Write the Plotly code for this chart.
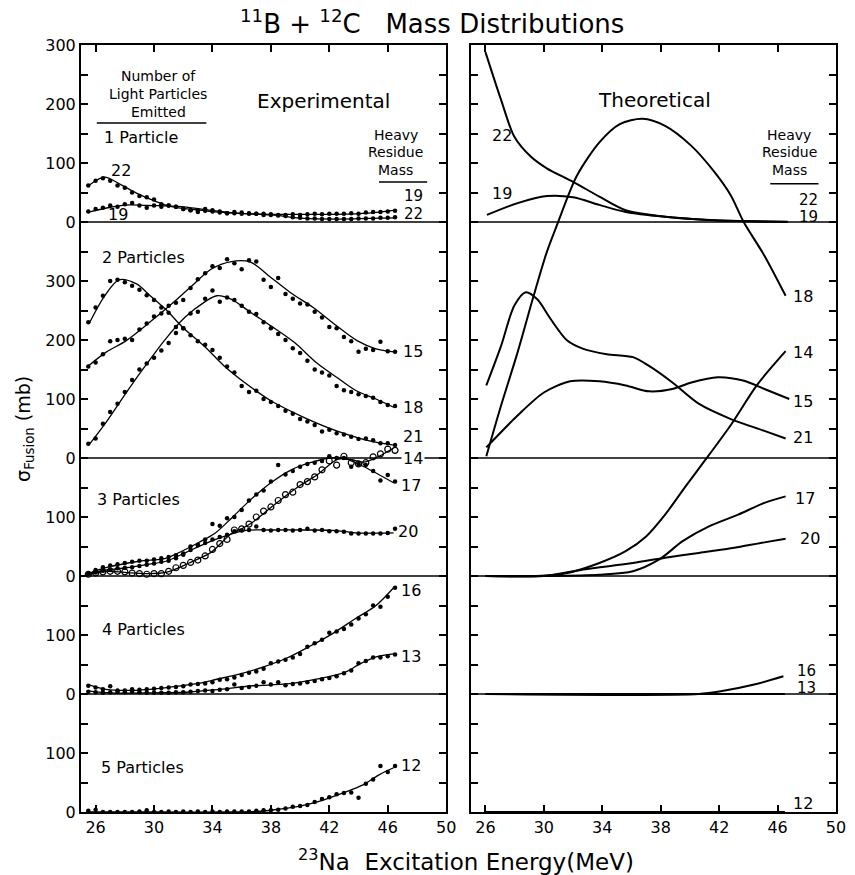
import plotly.graph_objects as go

FONT = "DejaVu Sans"

# stacked panels: offset (mb) of each row's zero line on one shared y scale
ROW_BASE = {1: 1000, 2: 600, 3: 400, 4: 200, 5: 0}
Y_TOP = 1300
X_RANGE = [25, 50]
X_TICKS = [26, 30, 34, 38, 42, 46, 50]

# ---------------- experimental data (dots) ----------------
E_DOTS = [25.5, 26.0, 26.5, 27.0, 27.5, 28.0, 28.5, 29.0, 29.5, 30.0,
          30.5, 31.0, 31.5, 32.0, 32.5, 33.0, 33.5, 34.0, 34.5, 35.0,
          35.5, 36.0, 36.5, 37.0, 37.5, 38.0, 38.5, 39.0, 39.5, 40.0,
          40.5, 41.0, 41.5, 42.0, 42.5, 43.0, 43.5, 44.0, 44.5, 45.0,
          45.5, 46.0, 46.5]

exp22_dots = [62, 70, 74, 70, 62, 58, 50, 44, 42, 38,
              30, 28, 26, 22, 20, 20, 19, 18, 16, 15,
              15, 14, 14, 14, 12, 12, 11, 10, 8, 7,
              6, 6, 5, 5, 5, 5, 5, 6, 6, 6,
              7, 7, 8]
exp19_dots = [18, 22, 24, 28, 26, 30, 32, 28, 24, 28,
              26, 28, 26, 22, 20, 17, 22, 20, 18, 15,
              17, 16, 15, 14, 14, 13, 12, 12, 13, 12,
              13, 14, 13, 14, 14, 14, 15, 14, 16, 17,
              17, 18, 19]
exp21_dots = [230, 255, 275, 300, 302, 298, 292, 285, 276, 268,
              255, 246, 222, 220, 208, 198, 192, 183, 170, 155,
              145, 122, 112, 114, 100, 95, 88, 80, 75, 66,
              62, 56, 45, 48, 42, 40, 36, 32, 33, 30,
              25, 25, 22]
exp15_dots = [155, 162, 176, 198, 200, 202, 200, 218, 228, 240,
              245, 258, 263, 268, 288, 303, 313, 325, 322, 337,
              330, 320, 335, 333, 302, 290, 305, 278, 270, 262,
              260, 248, 238, 222, 220, 205, 198, 180, 185, 183,
              197, 181, 180]
exp18_dots = [24, 33, 58, 78, 92, 112, 132, 150, 160, 170,
              182, 195, 212, 220, 245, 248, 270, 284, 265, 272,
              268, 258, 248, 244, 230, 220, 210, 200, 186, 178,
              165, 150, 145, 140, 122, 115, 112, 108, 105, 102,
              95, 90, 88]
exp17_dots = [4, 10, 15, 18, 20, 22, 24, 26, 26, 28,
              30, 32, 35, 38, 50, 53, 62, 88, 85, 98,
              100, 112, 128, 138, 145, 160, 188, 172, 178, 185,
              190, 192, 195, 203, 200, 200, 185, 190, 188, 178,
              162, 171, 160]
exp14_dots = [3, 5, 7, 8, 8, 7, 5, 4, 3, 4,
              4, 8, 14, 18, 23, 27, 34, 45, 55, 62,
              78, 80, 88, 100, 110, 117, 128, 138, 142, 155,
              160, 168, 180, 195, 188, 203, 192, 190, 192, 202,
              207, 215, 213]
exp20_dots = [4, 6, 9, 11, 13, 14, 15, 17, 19, 21,
              24, 26, 30, 36, 44, 52, 56, 62, 66, 70,
              76, 77, 78, 84, 78, 77, 78, 78, 77, 78,
              80, 77, 78, 76, 76, 75, 72, 72, 72, 72,
              72, 73, 80]
exp16_dots = [14, 11, 8, 13, 6, 6, 8, 7, 8, 9,
              10, 11, 12, 13, 16, 17, 18, 20, 24, 25,
              28, 32, 36, 38, 43, 52, 55, 58, 62, 68,
              80, 86, 92, 104, 106, 110, 118, 128, 135, 150,
              148, 165, 180]
exp13_dots = [4, 3, 2, 3, 4, 3, 4, 3, 2, 2,
              2, 2, 3, 3, 4, 5, 6, 5, 7, 8,
              16, 10, 12, 14, 20, 16, 20, 15, 17, 18,
              20, 22, 25, 27, 30, 35, 40, 52, 56, 62,
              62, 64, 67]
exp12_dots = [2, 4, 0, 0, 0, 0, 0, 1, 3, 0,
              0, 1, 0, 1, 0, 1, 0, 1, 0, 1,
              1, 1, 1, 2, 3, 3, 4, 6, 9, 10,
              12, 17, 22, 25, 30, 32, 33, 24, 48, 55,
              78, 68, 78]

# ---------------- experimental smooth curves ----------------
exp22_E = [25.6, 26.6, 27.75, 28.8, 29.9, 31.2, 33.5, 35.5, 38.0, 40.25, 42.5, 44.7, 46.55]
exp22_L = [63, 76, 63, 49, 37, 26, 19, 15, 12, 6, 5, 6, 7]
exp19_E = [25.6, 27.0, 28.3, 29.5, 31.9, 33.5, 35.7, 38.0, 40.25, 42.5, 44.7, 46.55]
exp19_L = [17, 25, 29, 28, 26, 21, 15, 13, 13, 13, 15, 20]
exp21_E = [25.6, 26.6, 27.6, 28.8, 29.7, 30.8, 31.9, 33.5, 34.8, 36.2, 38.0, 40.25, 42.5, 44.75, 46.4]
exp21_L = [230, 274, 302, 295, 276, 252, 223, 188, 156, 128, 97, 69, 46, 29, 22]
exp15_E = [25.5, 26.7, 28.1, 29.7, 31.2, 32.6, 33.9, 35.3, 36.6, 38.0, 39.3, 40.9, 42.5, 43.9, 45.2, 46.4]
exp15_L = [156, 179, 199, 230, 261, 292, 320, 333, 332, 306, 281, 255, 224, 199, 185, 180]
exp18_E = [25.6, 26.7, 28.1, 29.4, 30.8, 32.1, 33.5, 34.3, 35.3, 36.6, 38.0, 39.6, 41.1, 42.5, 43.85, 45.2, 46.4]
exp18_L = [24, 60, 111, 156, 202, 238, 265, 275, 269, 247, 224, 196, 162, 137, 114, 100, 86]
exp17_E = [25.6, 26.7, 29.0, 30.8, 31.9, 33.0, 34.2, 35.3, 36.6, 38.0, 39.4, 40.7, 42.05, 42.95, 44.3, 46.4]
exp17_L = [5, 14, 25, 30, 42, 56, 73, 98, 129, 158, 180, 192, 200, 200, 186, 158]
exp14_E = [25.6, 26.8, 28.0, 29.5, 30.8, 32.4, 33.9, 34.6, 35.3, 36.0, 36.8, 38.3, 39.8, 41.2, 42.6, 43.5, 44.4, 45.4, 46.4]
exp14_L = [3, 8, 6, 4, 6, 22, 40, 56, 72, 80, 92, 122, 150, 172, 198, 197, 193, 203, 217]
exp20_E = [25.6, 26.7, 28.1, 29.4, 30.8, 32.1, 33.5, 34.9, 36.2, 38.0, 40.3, 42.5, 43.8, 46.4]
exp20_L = [4, 10, 14, 19, 25, 39, 55, 68, 77, 78, 78, 77, 73, 73]
exp16_E = [25.6, 26.7, 28.1, 29.7, 31.2, 32.8, 34.3, 35.9, 37.5, 39.1, 40.6, 42.2, 43.8, 45.2, 46.4]
exp16_L = [15, 8, 6, 8, 12, 17, 25, 34, 46, 61, 80, 102, 128, 150, 180]
exp13_E = [25.6, 27.0, 30.0, 32.2, 34.5, 36.8, 39.1, 41.3, 43.1, 44.1, 45.2, 46.4]
exp13_L = [5, 2, 2, 3, 8, 14, 17, 26, 37, 51, 63, 68]
exp12_E = [25.6, 30.0, 35.7, 37.0, 38.0, 39.8, 41.3, 42.9, 44.3, 45.4, 46.4]
exp12_L = [0, 0, 0, 1, 3, 9, 18, 32, 46, 63, 75]

# ---------------- theoretical curves ----------------
th22_E = [26.0, 27.07, 27.97, 29.1, 30.2, 32.0, 33.8, 35.6, 38.3, 41.7, 45.1, 46.7]
th22_L = [288, 207, 145, 111, 91, 68, 43, 20, 9, 3, 1, 0.5]
th19_E = [26.1, 28.2, 30.2, 32.0, 33.8, 35.6, 38.3, 41.7, 45.1, 46.7]
th19_L = [12, 32, 44, 42, 29, 17, 9, 3, 1, 0]
th18_E = [26.06, 27.07, 28.2, 29.3, 30.2, 30.9, 32.25, 33.8, 35.2, 36.75, 38.3, 40.1, 41.7, 42.8, 43.7, 45.1, 46.55]
th18_L = [3, 89, 179, 275, 349, 395, 478, 535, 566, 575, 563, 529, 484, 445, 399, 343, 275]
th21_E = [26.06, 27.07, 27.97, 28.76, 29.55, 30.45, 31.6, 32.7, 34.3, 36.1, 37.2, 38.8, 40.6, 42.8, 45.1, 46.55]
th21_L = [123, 190, 258, 281, 269, 236, 199, 185, 176, 171, 156, 128, 92, 66, 46, 33]
th15_E = [26.06, 28.2, 30.0, 31.8, 33.8, 35.6, 37.2, 38.8, 40.1, 41.9, 43.7, 45.1, 46.8]
th15_L = [18, 72, 111, 130, 130, 123, 113, 117, 128, 137, 131, 117, 100]
th14_E = [26.0, 29.5, 31.6, 33.8, 35.6, 37.0, 38.3, 39.7, 41.0, 42.8, 44.6, 46.55]
th14_L = [0, 0, 5, 22, 42, 67, 104, 152, 195, 256, 324, 381]
th17_E = [26.0, 30.0, 33.8, 36.1, 37.9, 39.5, 41.3, 43.3, 45.1, 46.55]
th17_L = [0, 0, 2, 8, 28, 59, 84, 104, 124, 135]
th20_E = [26.0, 30.0, 32.7, 36.1, 38.3, 40.6, 42.8, 45.1, 46.55]
th20_L = [0, 0, 11, 22, 31, 39, 47, 57, 63]
th16_E = [26.0, 40.6, 42.2, 44.4, 46.4]
th16_L = [0, 0, 5, 16, 30]
th13_E = [26.0, 46.5]
th13_L = [0, 0]
th12_E = [26.0, 46.5]
th12_L = [0, 0]

EXP = [  # (row, curve E, curve values, dot values, marker symbol)
    (1, exp22_E, exp22_L, exp22_dots, "circle"),
    (1, exp19_E, exp19_L, exp19_dots, "circle"),
    (2, exp21_E, exp21_L, exp21_dots, "circle"),
    (2, exp15_E, exp15_L, exp15_dots, "circle"),
    (2, exp18_E, exp18_L, exp18_dots, "circle"),
    (3, exp17_E, exp17_L, exp17_dots, "circle"),
    (3, exp14_E, exp14_L, exp14_dots, "circle-open"),
    (3, exp20_E, exp20_L, exp20_dots, "circle"),
    (4, exp16_E, exp16_L, exp16_dots, "circle"),
    (4, exp13_E, exp13_L, exp13_dots, "circle"),
    (5, exp12_E, exp12_L, exp12_dots, "circle"),
]
THEO = [
    (1, th22_E, th22_L), (1, th19_E, th19_L),
    (2, th18_E, th18_L), (2, th21_E, th21_L), (2, th15_E, th15_L),
    (3, th14_E, th14_L), (3, th17_E, th17_L), (3, th20_E, th20_L),
    (4, th16_E, th16_L), (4, th13_E, th13_L),
    (5, th12_E, th12_L),
]

# mass labels: (panel, text, E, row, mb, font size)
MASS_LABELS = [
    ("L", "22", 27.77, 1, 88, 16), ("L", "19", 27.5, 1, 12, 16),
    ("L", "19", 47.77, 1, 44, 15), ("L", "22", 47.77, 1, 14, 15),
    ("L", "15", 47.7, 2, 181, 16), ("L", "18", 47.7, 2, 86, 16), ("L", "21", 47.7, 2, 36, 16),
    ("L", "14", 47.7, 3, 200, 16), ("L", "17", 47.57, 3, 154, 16), ("L", "20", 47.4, 3, 75, 16),
    ("L", "16", 47.57, 4, 176, 16), ("L", "13", 47.57, 4, 63, 16),
    ("L", "12", 47.57, 5, 78, 16),
    ("R", "22", 27.16, 1, 147, 16), ("R", "19", 27.16, 1, 49, 16),
    ("R", "22", 48.1, 1, 38, 15), ("R", "19", 48.1, 1, 9, 15),
    ("R", "18", 47.77, 2, 273, 16), ("R", "14", 47.77, 2, 178, 16),
    ("R", "15", 47.77, 2, 95, 16), ("R", "21", 47.77, 2, 34, 16),
    ("R", "17", 47.9, 3, 132, 16), ("R", "20", 48.2, 3, 64, 16),
    ("R", "16", 48.0, 4, 39, 15), ("R", "13", 48.0, 4, 10, 15),
    ("R", "12", 47.77, 5, 15, 16),
]
ROW_TITLES = [("1 Particle", 26.42, 1, 144), ("2 Particles", 26.28, 2, 339),
              ("3 Particles", 25.95, 3, 130), ("4 Particles", 26.28, 4, 110),
              ("5 Particles", 26.2, 5, 76)]


def G(row, v):
    return ROW_BASE[row] + v


fig = go.Figure()
for row, ce, cv, dv, sym in EXP:
    fig.add_trace(go.Scatter(x=ce, y=[G(row, v) for v in cv], mode="lines",
                             line=dict(color="black", width=1.3, shape="spline", smoothing=0.9),
                             xaxis="x", yaxis="y", showlegend=False, hoverinfo="skip"))
    if sym == "circle-open":
        mk = dict(symbol="circle-open", size=6, color="black", line=dict(width=1.2, color="black"))
    else:
        mk = dict(symbol="circle", size=4.5, color="black")
    fig.add_trace(go.Scatter(x=E_DOTS, y=[G(row, v) for v in dv], mode="markers",
                             marker=mk, xaxis="x", yaxis="y", showlegend=False, cliponaxis=True))
for row, ce, cv in THEO:
    fig.add_trace(go.Scatter(x=ce, y=[G(row, v) for v in cv], mode="lines",
                             line=dict(color="black", width=2, shape="spline", smoothing=0.8),
                             xaxis="x2", yaxis="y2", showlegend=False, hoverinfo="skip"))

# y ticks every 50 mb; labels relative to each row's zero
tickvals = list(range(0, Y_TOP + 1, 50))
bases = sorted(ROW_BASE.values())
ticktext = []
for t in tickvals:
    if t % 100:
        ticktext.append(" ")
    else:
        b = max(b for b in bases if b <= t)
        ticktext.append(str(t - b))

tickfont = dict(family=FONT, size=16, color="black")
common_x = dict(range=X_RANGE, tickvals=X_TICKS, ticks="inside", ticklen=7, tickwidth=1.5,
                tickcolor="black", showline=True, linecolor="black", linewidth=2,
                mirror="ticks", showgrid=False, zeroline=False, tickfont=tickfont)
common_y = dict(range=[0, Y_TOP], tickvals=tickvals, ticks="inside", ticklen=7, tickwidth=1.5,
                tickcolor="black", showline=True, linecolor="black", linewidth=2,
                mirror="ticks", showgrid=False, zeroline=False, tickfont=tickfont)

fig.update_layout(
    width=855, height=875, margin=dict(l=81, r=9, t=45, b=63),
    paper_bgcolor="white", plot_bgcolor="white",
    font=dict(family=FONT, color="black"),
    xaxis=dict(domain=[0, 370 / 765], anchor="y", **common_x),
    yaxis=dict(domain=[0, 1], anchor="x", ticktext=ticktext, **common_y),
    xaxis2=dict(domain=[395 / 765, 1], anchor="y2", **common_x),
    yaxis2=dict(domain=[0, 1], anchor="x2", showticklabels=False, **common_y),
)

shapes = []
for xr, yr in (("x domain", "y"), ("x2 domain", "y2")):
    for r in (1, 2, 3, 4):
        shapes.append(dict(type="line", xref=xr, yref=yr, x0=0, x1=1,
                           y0=ROW_BASE[r], y1=ROW_BASE[r], line=dict(color="black", width=1.6)))
# underlines of the header texts
shapes.append(dict(type="line", xref="x", yref="y", x0=26.08, x1=33.58, y0=1168, y1=1168,
                   line=dict(color="black", width=1.5)))
shapes.append(dict(type="line", xref="x", yref="y", x0=45.4, x1=48.7, y0=1068, y1=1068,
                   line=dict(color="black", width=1.5)))
shapes.append(dict(type="line", xref="x2", yref="y2", x0=45.5, x1=48.8, y0=1065, y1=1065,
                   line=dict(color="black", width=1.5)))
fig.update_layout(shapes=shapes)

ann = []


def txt(text, x, y, xref="x", yref="y", size=15, xanchor="center", **kw):
    ann.append(dict(text=text, x=x, y=y, xref=xref, yref=yref, showarrow=False,
                    xanchor=xanchor, yanchor="middle",
                    font=dict(family=FONT, size=size, color="black"), **kw))


for panel, t, e, row, v, fs in MASS_LABELS:
    ax = ("x", "y") if panel == "L" else ("x2", "y2")
    extra = {"bgcolor": "white"} if (panel == "L" and t == "14") else {}
    txt(t, e, G(row, v), ax[0], ax[1], size=fs, **extra)
for t, e, row, v in ROW_TITLES:
    txt(t, e, G(row, v), "x", "y", size=16, xanchor="left")

txt("Number of", 30.3, 1248, size=14)
txt("Light Particles", 30.3, 1217, size=14)
txt("Emitted", 30.3, 1186, size=14)
txt("Experimental", 41.6, 1205, size=20)
txt("Theoretical", 37.57, 1207, "x2", "y2", size=20)
for xr, yr, e in (("x", "y", 46.55), ("x2", "y2", 46.8)):
    txt("Heavy", e, 1148, xr, yr, size=14)
    txt("Residue", e, 1118, xr, yr, size=14)
    txt("Mass", e, 1088, xr, yr, size=14)

txt("<sup>11</sup>B + <sup>12</sup>C\u00a0\u00a0\u00a0Mass Distributions", 0.465, 1.03,
    "paper", "paper", size=26)
txt("<sup>23</sup>Na\u00a0\u00a0Excitation Energy(MeV)", 0.51, -0.062, "paper", "paper", size=23)
ann.append(dict(text="σ<sub>Fusion</sub> (mb)", x=-0.075, y=0.50, xref="paper", yref="paper",
                showarrow=False, textangle=-90, xanchor="center", yanchor="middle",
                font=dict(family=FONT, size=19, color="black")))
fig.update_layout(annotations=ann)

fig.write_html("out.html")
